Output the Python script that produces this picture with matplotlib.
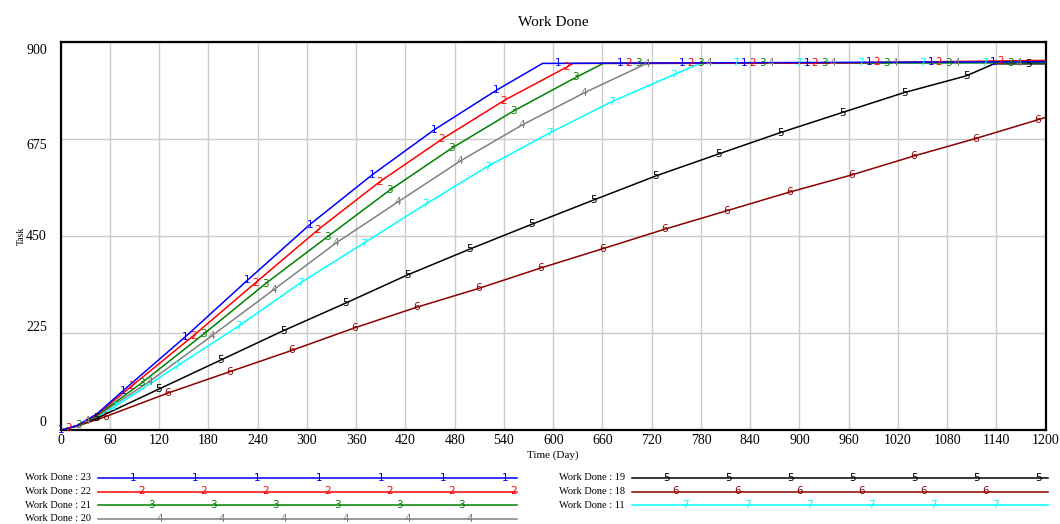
import numpy as np
import matplotlib.pyplot as plt

plt.rcParams['font.family'] = ['Liberation Serif', 'DejaVu Serif']

# values (time in days, task done)
t23 = [0, 20, 44, 76, 153, 228, 304, 379, 455, 531, 587, 1200]
wd23 = [0, 11, 38, 92, 219, 349, 478, 592, 697, 789, 851, 855]

t22 = [0, 22, 44, 86, 162, 239, 314, 389, 465, 541, 616, 624, 940, 1200]
wd22 = [0, 12, 36, 102, 220, 345, 466, 577, 676, 766, 842, 851, 852, 858]

t21 = [0, 22, 44, 98, 174, 250, 325, 400, 476, 552, 628, 661, 1200]
wd21 = [0, 12, 34, 109, 223, 341, 449, 556, 654, 741, 819, 851, 853]

t20 = [0, 22, 44, 108, 184, 260, 335, 411, 487, 562, 639, 714, 1200]
wd20 = [0, 11, 33, 113, 219, 327, 434, 530, 625, 708, 784, 851, 853]

t19 = [0, 22, 44, 120, 195, 270, 347, 422, 498, 574, 649, 725, 800, 876, 952, 1027, 1103, 1137, 1200]
wd19 = [0, 12, 28, 96, 163, 230, 295, 360, 420, 478, 534, 590, 640, 690, 737, 783, 822, 850, 850]

t18 = [0, 22, 55, 130, 206, 281, 357, 433, 509, 584, 660, 735, 811, 887, 963, 1039, 1115, 1190, 1200]
wd18 = [0, 11, 32, 86, 136, 185, 237, 285, 329, 376, 421, 466, 509, 552, 592, 636, 677, 720, 726]

t11 = [0, 22, 44, 66, 141, 217, 292, 369, 444, 520, 595, 671, 746, 779, 1200]
wd11 = [0, 11, 31, 55, 148, 242, 342, 434, 524, 612, 689, 762, 824, 851, 853]

labels = ['Work Done : 23', 'Work Done : 22', 'Work Done : 21', 'Work Done : 20',
          'Work Done : 19', 'Work Done : 18', 'Work Done : 11']
series = [(t23, wd23), (t22, wd22), (t21, wd21), (t20, wd20),
          (t19, wd19), (t18, wd18), (t11, wd11)]
colors = ['#0000ff', '#ff0000', '#008000', '#808080', '#000000', '#8b0000', '#00ffff']
marks = ['1', '2', '3', '4', '5', '6', '7']
mark_start = [0.5, 10.1, 22.1, 32.2, 43.8, 54.7, 65.5]
mark_step = 75.7

xticks = np.arange(0, 1201, 60)
yticks = [0, 225, 450, 675, 900]

fig = plt.figure(figsize=(10.6, 5.24), dpi=100)
ax = fig.add_axes([0.0573, 0.1788, 0.9292, 0.7405])

# draw last series first so the blue one sits on top at the plateau
for i in range(len(series) - 1, -1, -1):
    t, v = series[i]
    ax.plot(t, v, color=colors[i], lw=1.1, zorder=3 + (7 - i) * 0.1)
    mt = np.arange(mark_start[i], 1200, mark_step)
    mv = np.interp(mt, t, v)
    for a, b in zip(mt, mv):
        ax.text(a, b, marks[i], color=colors[i], fontsize=7.5, family='DejaVu Sans',
                ha='center', va='center', zorder=4)

ax.set_xlim(0, 1200)
ax.set_ylim(0, 900)
ax.set_xticks(xticks)
ax.set_yticks(yticks)
ax.set_yticklabels([])
ax.tick_params(length=0, labelsize=10, pad=3)
ax.grid(True, color='#cccccc', lw=1)
ax.set_axisbelow(True)
for s in ax.spines.values():
    s.set_linewidth(1.6)
    s.set_color('black')

# Vensim keeps the end labels inside the axis span
yva = {0: 'bottom', 225: 'center', 450: 'center', 675: 'center', 900: 'top'}
yoff = {0: 2, 225: 9, 450: 0, 675: -9, 900: -2}
for yt in yticks:
    ax.annotate(str(yt), (0, yt), xycoords=('axes fraction', 'data'),
                xytext=(-10, yoff[yt] * 0.5), textcoords='offset points',
                ha='right', va=yva[yt], fontsize=10)

ax.set_xlabel('Time (Day)', fontsize=8, labelpad=2)
ax.set_ylabel('Task', fontsize=7, labelpad=22)
ax.set_title('Work Done', fontsize=11, pad=12)

# legend drawn in pixel space below the plot
lg = fig.add_axes([0, 0, 1, 1], zorder=-1)
lg.set_xlim(0, 1060)
lg.set_ylim(524, 0)
lg.axis('off')
rows = [478, 491.5, 505, 518.5]
cols = [(91, 98, 517), (625, 632, 1048)]
for i, lab in enumerate(labels):
    c = 0 if i < 4 else 1
    r = i if i < 4 else i - 4
    tx, x0, x1 = cols[c]
    y = rows[r]
    lg.text(tx, y, lab, ha='right', va='center', fontsize=7.5)
    lg.plot([x0, x1], [y, y], color=colors[i], lw=1.1)
    for mx in np.arange(x0 + 35 + 9 * r, x1, 62):
        lg.text(mx, y, marks[i], color=colors[i], fontsize=7.5, family='DejaVu Sans',
                ha='center', va='center')

fig.savefig('out.png', dpi=100)
